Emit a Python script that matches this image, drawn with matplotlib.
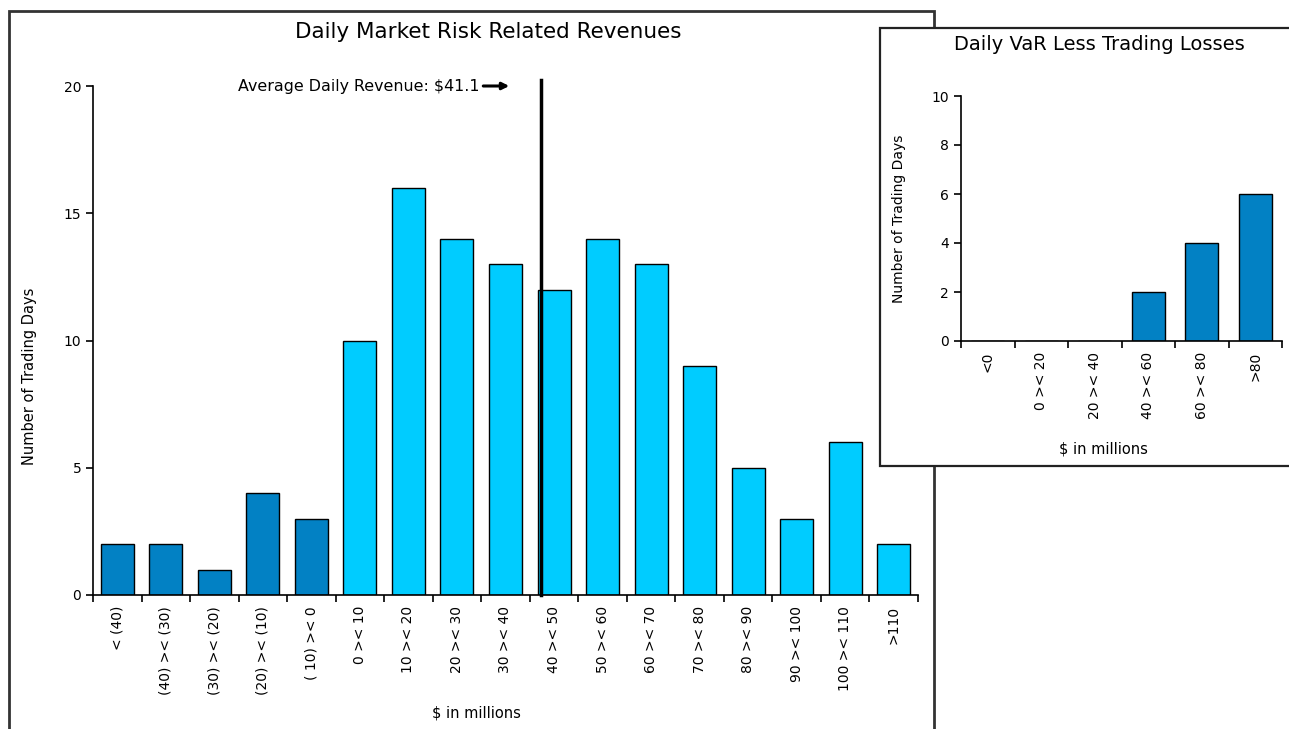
# Daily market risk related revenues histogram, with VaR-less-losses inset

import matplotlib.pyplot as plt
from matplotlib.patches import Rectangle

# DATA
rev_bins = ['< (40)', '(40) >< (30)', '(30) >< (20)', '(20) >< (10)', '( 10) >< 0',
            '0 >< 10', '10 >< 20', '20 >< 30', '30 >< 40', '40 >< 50', '50 >< 60',
            '60 >< 70', '70 >< 80', '80 >< 90', '90 >< 100', '100 >< 110', '>110']
rev_days = [2, 2, 1, 4, 3, 10, 16, 14, 13, 12, 14, 13, 9, 5, 3, 6, 2]
n_loss_bins = 5          # first bins are losses, drawn darker
avg_revenue = 41.1
avg_bin_low = 40         # bin that holds the average
avg_bin_idx = 9

var_bins = ['<0', '0 >< 20', '20 >< 40', '40 >< 60', '60 >< 80', '>80']
var_days = [0, 0, 0, 2, 4, 6]

dark = '#0281c4'
light = '#00ccff'
font = 'DejaVu Sans'
plt.rcParams['font.family'] = font

W, H = 1289, 729
fig = plt.figure(figsize=(W/100, H/100), dpi=100)

# frames around the two charts
fig.patches.append(Rectangle((9/W, -0.05), 925/W, 1.05 - 11/H,
                             transform=fig.transFigure, fill=False,
                             edgecolor='#333333', linewidth=2, zorder=0))
fig.patches.append(Rectangle((880/W, 1 - 466/H), 420/W, 438/H,
                             transform=fig.transFigure, facecolor='white',
                             edgecolor='#222222', linewidth=1.6, zorder=5))

def style_axes(ax):
	for s in ['top', 'right']:
		ax.spines[s].set_visible(False)
	ax.spines['left'].set_linewidth(1.2)
	ax.spines['bottom'].set_linewidth(1.2)
	ax.tick_params(axis='y', direction='out', length=5, width=1.2, labelsize=10)
	ax.tick_params(axis='x', which='major', length=0, labelsize=10, pad=8)
	ax.tick_params(axis='x', which='minor', direction='out', length=5, width=1.2)

# MAIN CHART
ax = fig.add_axes([93/W, 1 - 595/H, 825/W, 509/H])
x = range(len(rev_days))
colors = [dark if i < n_loss_bins else light for i in x]
ax.bar(x, rev_days, width=0.68, color=colors, edgecolor='black', linewidth=1)
ax.set_xlim(-0.5, len(rev_days) - 0.5)
ax.set_ylim(0, 20)
ax.set_yticks([0, 5, 10, 15, 20])
ax.set_xticks(list(x))
ax.set_xticklabels(rev_bins, rotation=90, va='top', ha='center')
ax.set_xticks([i + 0.5 for i in range(-1, len(rev_days))], minor=True)
style_axes(ax)
ax.set_ylabel('Number of Trading Days', fontsize=10.5)
ax.yaxis.set_label_coords((37 - 93)/825, 0.43)
ax.set_xlabel('$ in millions', fontsize=10.5)
ax.xaxis.set_label_coords((476 - 93)/825, -(706 - 595)/509)
fig.text(488/W, 1 - 32/H, 'Daily Market Risk Related Revenues',
         ha='center', va='center', fontsize=15.5)

# average revenue marker, placed inside its bin's bar
half = 0.34
avg_x = avg_bin_idx - half + 2 * half * (avg_revenue - avg_bin_low) / 10
ax.plot([avg_x, avg_x], [0, 20.25], color='black', linewidth=2.5, clip_on=False, zorder=4)
ax.annotate('', xy=(avg_x - 0.6, 20), xytext=(avg_x - 1.25, 20),
            arrowprops=dict(arrowstyle='-|>', color='black', lw=2.2,
                            mutation_scale=10), annotation_clip=False)
ax.text(avg_x - 1.27, 20, 'Average Daily Revenue: $%.1f' % avg_revenue,
        ha='right', va='center', fontsize=11.4)

# INSET CHART
ax2 = fig.add_axes([961/W, 1 - 341/H, 321/W, 245/H], zorder=6)
x2 = range(len(var_days))
ax2.bar(x2, var_days, width=0.62, color=dark, edgecolor='black', linewidth=1)
ax2.set_xlim(-0.5, len(var_days) - 0.5)
ax2.set_ylim(0, 10)
ax2.set_yticks(range(0, 11, 2))
ax2.set_xticks(list(x2))
ax2.set_xticklabels(var_bins, rotation=90, va='top', ha='center')
ax2.set_xticks([i + 0.5 for i in range(-1, len(var_days))], minor=True)
style_axes(ax2)
ax2.patch.set_alpha(0)
ax2.set_ylabel('Number of Trading Days', fontsize=10)
ax2.yaxis.set_label_coords((906 - 961)/321, 0.5)
ax2.set_xlabel('$ in millions', fontsize=10.5)
ax2.xaxis.set_label_coords((1103 - 961)/321, -(441 - 341)/245)
fig.text(1099/W, 1 - 45/H, 'Daily VaR Less Trading Losses',
         ha='center', va='center', fontsize=14, zorder=7)

plt.savefig('out.png', dpi=100)
